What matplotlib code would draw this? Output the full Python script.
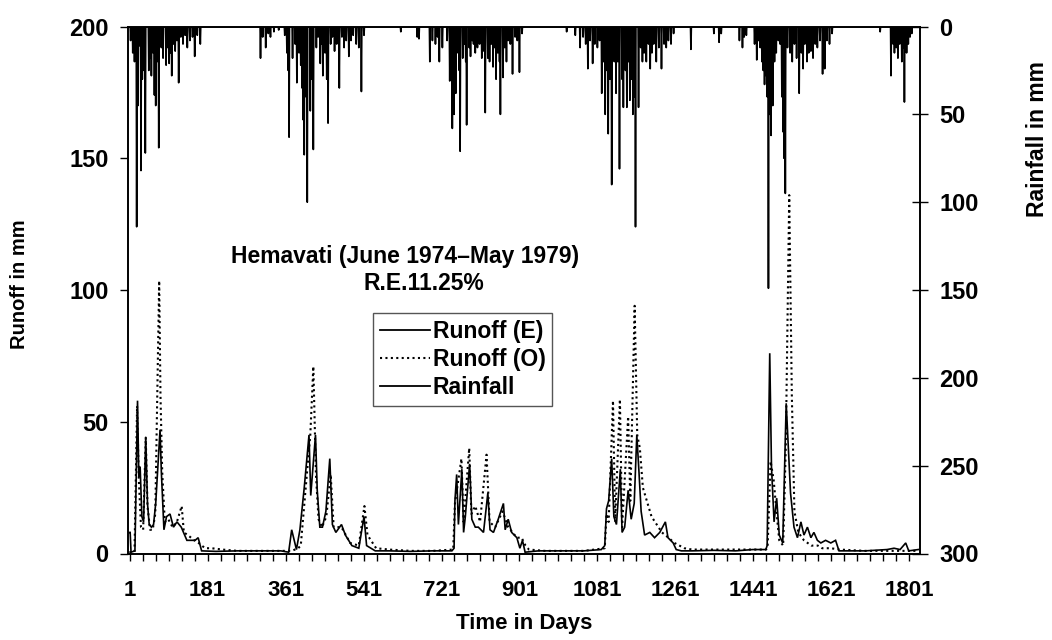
import numpy as np
import matplotlib
matplotlib.use("Agg")
import matplotlib.pyplot as plt
from matplotlib.lines import Line2D

plt.rcParams['font.family'] = ['Liberation Sans', 'DejaVu Sans']
plt.rcParams['font.weight'] = 'bold'

# ---------------- data ----------------
n_days = 1826

rain_day = [3, 8, 12, 17, 20, 24, 27, 30, 34, 37, 45, 48, 51, 55, 58, 61, 64, 68, 74, 78,
            85, 89, 92, 95, 98, 102, 106, 110, 114, 119, 124, 129, 134, 140, 146, 151, 157, 164,
            303, 308, 315, 321, 326, 334, 345, 359, 364, 367, 369, 377, 383, 387, 392, 396, 399,
            401, 404, 408, 411, 418, 422, 425, 432, 436, 441, 445, 447, 452, 456, 459, 465, 469,
            474, 479, 485, 491, 496, 501, 507, 512, 517, 524, 530, 536, 542, 627, 665, 669,
            694, 700, 707, 712, 716, 723, 734, 740, 743, 746, 750, 754, 759, 762, 764, 770, 774,
            777, 779, 785, 788, 792, 795, 799, 804, 809, 814, 819, 822, 828, 832, 836, 840, 844,
            847, 851, 855, 857, 863, 867, 871, 875, 880, 885, 891, 896, 901, 907,
            1010, 1030, 1041, 1048, 1054, 1059, 1064, 1070, 1075, 1081, 1086, 1091, 1095, 1099,
            1103, 1106, 1110, 1114, 1120, 1124, 1128, 1130, 1132, 1138, 1141, 1146, 1149, 1153,
            1156, 1160, 1163, 1166, 1169, 1176, 1181, 1185, 1189, 1194, 1199, 1203, 1207, 1211,
            1217, 1223, 1229, 1235, 1240, 1245, 1251, 1257, 1297,
            1350, 1362, 1367, 1409, 1416, 1420, 1425, 1444, 1449, 1453, 1457, 1461, 1464, 1467,
            1471, 1473, 1476, 1479, 1482, 1486, 1490, 1494, 1499, 1503, 1507, 1510, 1512, 1515,
            1520, 1526, 1531, 1536, 1541, 1547, 1552, 1556, 1560, 1565, 1569, 1574, 1579, 1584,
            1589, 1595, 1601, 1606, 1611, 1617, 1623,
            1734, 1759, 1764, 1767, 1771, 1775, 1779, 1784, 1788, 1790, 1795, 1799, 1803, 1807]
rain_mm = [8, 15, 20, 114, 45, 11, 82, 30, 25, 72, 25, 18, 28, 15, 39, 45, 20, 69, 12, 18,
           22, 12, 21, 15, 28, 10, 14, 8, 32, 6, 10, 5, 12, 8, 6, 17, 5, 10,
           18, 6, 12, 4, 6, 3, 2, 5, 15, 25, 63, 18, 10, 32, 15, 22, 35,
           53, 73, 40, 100, 48, 30, 70, 12, 6, 21, 10, 28, 15, 30, 55, 10, 6,
           14, 10, 35, 6, 12, 8, 17, 8, 5, 10, 12, 37, 5, 3, 6, 7,
           20, 8, 10, 6, 20, 12, 8, 31, 20, 58, 50, 38, 15, 25, 71, 18, 10,
           20, 56, 12, 17, 8, 10, 15, 12, 10, 18, 14, 49, 18, 20, 10, 23, 12,
           30, 15, 20, 50, 29, 12, 20, 8, 10, 27, 6, 8, 26, 4,
           3, 5, 12, 6, 10, 24, 8, 21, 10, 12, 8, 38, 20, 50,
           25, 61, 30, 90, 20, 38, 20, 15, 81, 30, 46, 25, 46, 20,
           42, 30, 50, 40, 114, 46, 12, 20, 15, 20, 10, 24, 15, 10,
           20, 12, 24, 10, 12, 8, 10, 4, 13,
           4, 9, 4, 8, 12, 6, 5, 10, 19, 8, 12, 20, 25, 33,
           28, 40, 149, 50, 62, 45, 20, 15, 8, 10, 40, 60, 75, 95,
           12, 15, 20, 10, 18, 38, 15, 24, 10, 20, 15, 14, 18, 10,
           12, 8, 27, 24, 8, 10, 4,
           3, 28, 10, 15, 12, 18, 10, 20, 12, 43, 15, 10, 6, 4]

runoff_e_day = [0, 2, 4, 13, 19, 22, 25, 29, 33, 38, 42, 46, 51, 56, 61, 71, 74, 80, 86, 94,
                102, 110, 120, 133, 152, 159, 167, 200, 250, 300, 350, 368, 375, 386, 394, 404,
                415, 419, 430, 434, 440, 446, 454, 463, 469, 477, 490, 499, 514, 530, 542, 548,
                568, 600, 650, 700, 745, 750, 752, 756, 760, 768, 772, 776, 786, 791, 799, 806,
                818, 828, 833, 841, 852, 864, 868, 875, 883, 895, 902, 908, 914, 945, 1000, 1050,
                1090, 1098, 1102, 1107, 1114, 1119, 1125, 1134, 1138, 1144, 1152, 1159, 1166,
                1172, 1177, 1182, 1190, 1202, 1213, 1225, 1238, 1244, 1256, 1263, 1275, 1300,
                1350, 1400, 1440, 1470, 1473, 1479, 1483, 1489, 1495, 1501, 1509, 1517, 1527,
                1535, 1543, 1551, 1558, 1566, 1574, 1581, 1589, 1597, 1608, 1620, 1631, 1639,
                1700, 1750, 1766, 1780, 1793, 1800, 1822]
runoff_e = [8, 8, 0.5, 1, 58, 29, 33, 14, 12, 44, 19, 11, 10, 11, 19, 47, 31, 9, 14, 15,
            10, 12, 10, 5, 5, 6, 1, 0.8, 1, 1, 1, 0.5, 9, 1.5, 9, 25,
            45, 22, 45, 24, 10, 10, 16, 36, 11, 8, 11, 7, 3, 2, 14, 3,
            1, 1, 0.8, 1, 1, 2, 20, 30, 11, 32, 8, 14, 34, 13, 10, 10,
            8, 23, 9, 8, 13, 19, 9, 13, 8, 6, 2, 5, 0.5, 1, 1, 1,
            1.5, 3, 17, 20, 36, 14, 11, 32, 8, 10, 24, 13, 19,
            45, 31, 16, 7, 8, 6, 8, 12, 6, 4, 1.5, 1, 1,
            1.2, 1, 1.5, 1.5, 3, 76, 33, 12, 21, 7, 4, 57, 23,
            10, 6, 12, 7, 10, 6, 8, 5, 4, 5, 4, 5, 1,
            1, 1.5, 2, 1.5, 4, 1, 1.5]

runoff_o_day = [0, 12, 18, 22, 27, 32, 38, 42, 48, 54, 60, 69, 72, 76, 82, 90, 100, 110, 121,
                126, 135, 150, 160, 175, 190, 215, 250, 300, 360, 375, 390, 396, 410, 418, 425,
                431, 437, 445, 455, 465, 472, 490, 510, 530, 543, 550, 570, 600, 650, 700, 748,
                752, 767, 772, 785, 790, 799, 810, 825, 832, 845, 862, 875, 895, 906, 915, 923,
                960, 1050, 1098, 1102, 1107, 1117, 1122, 1133, 1138, 1152, 1157, 1167, 1173,
                1179, 1186, 1206, 1230, 1245, 1259, 1282, 1300, 1400, 1470, 1474, 1481, 1488,
                1495, 1501, 1510, 1516, 1524, 1530, 1536, 1545, 1558, 1575, 1590, 1600, 1620,
                1640, 1700, 1822]
runoff_o = [0.5, 0.5, 56, 28, 10, 9, 44, 18, 9, 9, 15, 103.5, 60, 31, 12, 13, 10, 12, 18,
            8, 7, 5, 4, 2, 2, 1.5, 1, 1, 1, 1, 2, 3, 30, 45, 71,
            30, 13, 10, 14, 30, 10, 10, 4, 3, 18, 7, 2, 1.5, 1, 1, 1.5,
            19, 36, 12, 40, 15, 18, 12, 37.5, 12, 10, 16, 10, 6, 6, 3, 1.5,
            1, 1, 2, 15, 12, 58, 12, 58.5, 10, 52, 20, 94, 45,
            40, 25, 14, 8, 6, 4, 2, 1.5, 1.5, 1.5, 2, 35, 28,
            15, 5, 3, 40, 136, 60, 16, 8, 5, 3, 3, 2, 2,
            1.5, 1, 1]

x_major = [1, 181, 361, 541, 721, 901, 1081, 1261, 1441, 1621, 1801]
runoff_ticks = [0, 50, 100, 150, 200]
rain_ticks = [0, 50, 100, 150, 200, 250, 300]

# daily rainfall table built from the read values (0 on days with no visible rain)
days = np.arange(n_days)
rain_daily = np.zeros(n_days)
rain_daily[np.array(rain_day)] = rain_mm

# ---------------- figure ----------------
W, H = 1052, 640
fig = plt.figure(figsize=(W / 100, H / 100), dpi=100)
L, R, T, B = 128, 920, 26.5, 553.5
ax = fig.add_axes([L / W, 1 - B / H, (R - L) / W, (B - T) / H])
ax2 = ax.twinx()

ax.plot(runoff_e_day, runoff_e, color='black', lw=1.2, solid_joinstyle='miter')
ax.plot(runoff_o_day, runoff_o, color='black', lw=1.5, linestyle=(0, (1, 1.6)))
ax2.plot(days, rain_daily, color='black', lw=1.2)

ax.set_xlim(-3, 1826)
ax.set_ylim(0, 200)
ax2.set_ylim(300, 0)

ax.set_xticks(x_major)
ax.set_xticks(np.arange(1, 1826, 30), minor=True)
ax.set_yticks(runoff_ticks)
ax2.set_yticks(rain_ticks)

ax.tick_params(axis='x', which='both', direction='out', length=5, width=1, pad=14,
               labelsize=16, top=False)
ax.tick_params(axis='y', direction='out', length=6, width=1, pad=8, labelsize=17)
ax2.tick_params(axis='y', direction='inout', length=12, width=1, pad=8, labelsize=17)
for lab in ax.get_xticklabels() + ax.get_yticklabels() + ax2.get_yticklabels():
    lab.set_fontweight('bold')

for a in (ax, ax2):
    for s in a.spines.values():
        s.set_linewidth(1.2)
        s.set_color('black')

ax.set_xlabel('Time in Days', fontsize=16, fontweight='bold', labelpad=9)
fig.text(20 / W, 1 - 284 / H, 'Runoff in mm', fontsize=14.5, fontweight='bold',
         rotation=90, ha='center', va='center')
fig.text(1037 / W, 1 - 139 / H, 'Rainfall in mm', fontsize=16.5, fontweight='bold',
         rotation=90, ha='center', va='center')

fig.text(405 / W, 1 - 257 / H, 'Hemavati (June 1974\u2013May 1979)', fontsize=16.5,
         fontweight='bold', ha='center', va='center')
fig.text(424 / W, 1 - 284 / H, 'R.E.11.25%', fontsize=16.5, fontweight='bold',
         ha='center', va='center')

handles = [Line2D([], [], color='black', lw=1.3),
           Line2D([], [], color='black', lw=1.5, linestyle=(0, (1, 1.6))),
           Line2D([], [], color='black', lw=1.3)]
leg = ax2.legend(handles, ['Runoff (E)', 'Runoff (O)', 'Rainfall'],
                 loc='upper left', bbox_to_anchor=(373 / W, 1 - 313 / H),
                 bbox_transform=fig.transFigure, borderaxespad=0,
                 prop={'size': 16.5, 'weight': 'bold'}, handlelength=2.2,
                 handletextpad=0.1, labelspacing=0.22, borderpad=0.3,
                 fancybox=False, framealpha=1, edgecolor='#555555')
leg.get_frame().set_linewidth(1.0)

fig.savefig('out.png', dpi=100, facecolor='white')
